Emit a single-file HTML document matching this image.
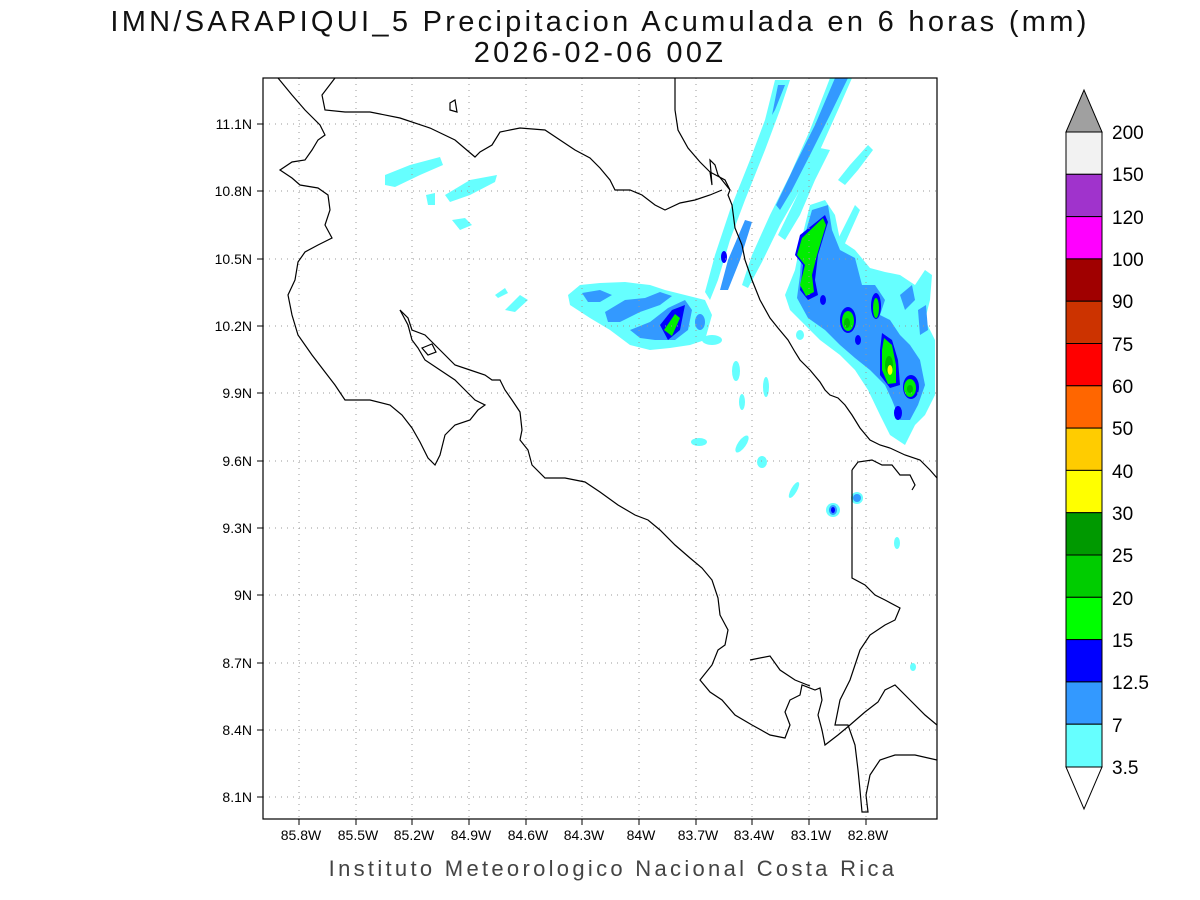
<!DOCTYPE html>
<html><head><meta charset="utf-8"><style>
html,body{margin:0;padding:0;background:#fff;}
svg{display:block;font-family:"Liberation Sans","DejaVu Sans",sans-serif;}
</style></head><body>
<svg width="1200" height="900" viewBox="0 0 1200 900" xmlns="http://www.w3.org/2000/svg">
<rect width="1200" height="900" fill="#fff"/>
<text x="600" y="31" font-size="29" text-anchor="middle" fill="#111" letter-spacing="3.3">IMN/SARAPIQUI_5 Precipitacion Acumulada en 6 horas (mm)</text>
<text x="600" y="62" font-size="29" text-anchor="middle" fill="#111" letter-spacing="3.3">2026-02-06 00Z</text>
<clipPath id="c"><rect x="263" y="78" width="674" height="741"/></clipPath>
<g clip-path="url(#c)">
<g fill="#66ffff">
<path d="M830,78 L852,78 L838,110 L820,150 L800,190 L780,225 L762,262 L748,288 L742,285 L752,255 L770,215 L790,175 L810,130 Z"/>
<path d="M775,80 L790,80 L780,110 L765,150 L745,200 L730,240 L718,280 L710,300 L705,292 L715,255 L730,210 L750,160 L765,120 Z"/>
<path d="M820,148 L830,150 L815,180 L800,215 L785,240 L778,235 L795,200 Z"/>
<path d="M868,145 L873,150 L858,170 L845,185 L838,180 L850,165 Z"/>
<path d="M855,205 L860,210 L842,250 L835,245 Z"/>
<path d="M810,205 L825,200 L835,215 L840,240 L855,250 L870,268 L885,272 L900,275 L915,285 L925,270 L932,275 L930,300 L925,320 L935,340 L935,395 L925,415 L915,425 L905,445 L890,435 L880,415 L868,390 L855,370 L840,355 L820,340 L805,325 L790,310 L785,295 L795,270 L800,245 Z"/>
<path d="M580,285 L600,283 L625,282 L650,285 L665,290 L685,295 L705,300 L712,315 L705,340 L690,345 L670,348 L650,350 L630,345 L610,330 L590,318 L570,305 L568,295 Z"/>
<path d="M385,175 L410,165 L440,157 L443,165 L420,175 L395,187 L385,185 Z"/>
<path d="M445,195 L470,180 L497,175 L495,182 L470,195 L450,202 Z"/>
<path d="M452,220 L465,218 L472,225 L460,230 Z"/>
<path d="M505,310 L520,295 L528,300 L515,312 Z"/>
<path d="M495,295 L505,288 L508,293 L498,298 Z"/>
<path d="M426,195 L435,193 L435,205 L428,205 Z"/>
<ellipse cx="736" cy="371" rx="4" ry="10"/>
<ellipse cx="766" cy="387" rx="3" ry="10"/>
<ellipse cx="742" cy="402" rx="3" ry="8"/>
<ellipse cx="742" cy="444" rx="4" ry="10" transform="rotate(35 742 444)"/>
<ellipse cx="699" cy="442" rx="8" ry="4"/>
<ellipse cx="762" cy="462" rx="5" ry="6"/>
<ellipse cx="794" cy="490" rx="3" ry="9" transform="rotate(30 794 490)"/>
<ellipse cx="833" cy="510" rx="7" ry="7"/>
<ellipse cx="857" cy="498" rx="6" ry="6"/>
<ellipse cx="897" cy="543" rx="3" ry="6"/>
<ellipse cx="913" cy="667" rx="3" ry="4"/>
<ellipse cx="712" cy="340" rx="10" ry="5"/>
<ellipse cx="800" cy="335" rx="4" ry="5"/>
</g>
<g fill="#3399ff">
<path d="M835,78 L848,78 L830,115 L810,155 L792,190 L780,210 L776,205 L795,165 L815,125 Z"/>
<path d="M778,85 L785,85 L775,110 L772,115 Z"/>
<path d="M745,220 L752,222 L740,260 L728,290 L720,290 L728,260 Z"/>
<path d="M812,210 L828,205 L832,230 L840,250 L855,258 L862,285 L875,285 L885,300 L880,315 L890,320 L900,335 L910,345 L920,360 L925,385 L918,405 L910,420 L900,420 L892,400 L885,385 L870,370 L855,358 L840,345 L825,330 L808,318 L797,298 L800,275 L802,245 Z"/>
<path d="M900,295 L912,285 L915,300 L905,310 Z"/>
<path d="M918,310 L926,305 L928,330 L920,335 Z"/>
<path d="M582,293 L600,290 L612,295 L600,302 L588,302 Z"/>
<path d="M605,312 L625,300 L645,298 L660,292 L672,296 L660,305 L640,312 L620,322 L608,322 Z"/>
<path d="M630,330 L650,322 L668,308 L685,300 L692,310 L688,330 L675,340 L655,340 L640,338 Z"/>
<ellipse cx="700" cy="322" rx="5" ry="8"/>
<ellipse cx="833" cy="510" rx="4" ry="5"/>
<ellipse cx="857" cy="498" rx="4" ry="4"/>
</g>
<g fill="#0000ff">
<path d="M825,215 L828,222 L818,255 L815,280 L818,295 L808,300 L800,290 L803,265 L795,255 L800,235 Z"/>
<ellipse cx="848" cy="320" rx="8" ry="13"/>
<ellipse cx="876" cy="306" rx="5" ry="13"/>
<path d="M882,333 L892,340 L898,360 L900,385 L890,388 L880,375 L880,350 Z"/>
<ellipse cx="911" cy="387" rx="8" ry="12"/>
<ellipse cx="898" cy="413" rx="4" ry="7"/>
<ellipse cx="823" cy="300" rx="3" ry="5"/>
<ellipse cx="858" cy="340" rx="3" ry="5"/>
<ellipse cx="724" cy="257" rx="3" ry="6"/>
<path d="M660,325 L672,310 L685,305 L680,330 L668,340 Z"/>
<ellipse cx="833" cy="510" rx="2" ry="3"/>
</g>
<g fill="#00ee00">
<path d="M823,218 L826,225 L817,255 L812,275 L814,292 L806,296 L800,285 L805,265 L797,255 L802,238 Z"/>
<ellipse cx="848" cy="321" rx="6" ry="10"/>
<ellipse cx="876" cy="308" rx="3" ry="10"/>
<path d="M884,338 L892,345 L896,365 L896,383 L888,384 L882,370 L882,350 Z"/>
<ellipse cx="910" cy="388" rx="6" ry="9"/>
<path d="M664,330 L675,314 L680,318 L672,336 Z"/>
</g>
<g fill="#00bb00"><ellipse cx="847" cy="323" rx="3" ry="5"/><ellipse cx="889" cy="365" rx="4" ry="9"/><ellipse cx="910" cy="389" rx="3" ry="4"/></g>
<ellipse cx="890" cy="370" rx="2.5" ry="5" fill="#ffff00"/>
<g stroke="#999" stroke-width="1" stroke-dasharray="1,5">
<path d="M299,78V819M356,78V819M412,78V819M469,78V819M526,78V819M582,78V819M639,78V819M696,78V819M752,78V819M809,78V819M866,78V819"/>
<path d="M263,124H937M263,191H937M263,259H937M263,326H937M263,393H937M263,461H937M263,528H937M263,595H937M263,663H937M263,730H937M263,797H937"/>
</g>
<g fill="none" stroke="#000" stroke-width="1.2">
<path d="M278,78 L292,95 L305,110 L320,125 L325,135 L318,140 L312,150 L305,160 L292,162 L280,170 L292,178 L300,185 L318,188 L328,195 L330,210 L325,225 L332,238 L318,245 L305,252 L298,262 L295,280 L288,295 L292,315 L298,335 L312,355 L325,372 L335,385 L345,400 L370,400 L390,405 L402,415 L412,428 L420,442 L428,458 L435,465 L440,455 L445,435 L455,425 L470,420 L478,410 L485,405 L475,400 L465,390 L455,380 L440,370 L425,360 L418,348 L412,340 L408,325 L400,310"/>
<path d="M400,310 L408,318 L412,330 L425,335 L440,350 L455,365 L470,370 L485,375 L492,380 L500,380 L505,390 L512,400 L520,412 L522,430 L520,440 L528,450 L532,465 L545,478 L565,478 L585,482 L600,492 L618,505 L635,515 L648,520 L660,530 L675,545 L690,558 L702,568 L712,580 L718,598 L720,615 L728,630 L725,645 L718,650 L712,665 L700,680 L710,692 L722,700 L735,715 L752,725 L770,735 L785,738 L790,725 L785,712 L790,700 L800,695 L802,685 L815,690 L820,688 L822,700 L818,715 L822,730 L825,745 L838,735 L850,725 L865,712 L878,702 L885,690 L895,685 L910,700 L925,715 L937,725"/>
<path d="M750,660 L770,656 L780,670 L795,680 L810,686"/>
<path d="M422,348 L432,344 L436,352 L428,355 Z"/>
<path d="M450,103 L455,100 L457,112 L450,110 Z"/>
<path d="M335,78 L322,95 L325,110 L345,112 L370,112 L400,118 L430,128 L455,140 L475,157 L480,152 L492,145 L500,132 L520,128 L545,130 L560,140 L575,150 L590,158 L600,168 L610,180 L615,190 L630,190 L642,195 L655,205 L665,210 L680,203 L695,200 L710,195 L722,190"/>
<path d="M675,78 L675,110 L678,130 L688,148 L700,162 L710,172 L712,185 L710,160 L715,165 L718,175 L730,190 L728,195 L732,205 L735,228 L742,245 L745,260 L752,280 L760,300 L770,318 L778,328 L788,340 L795,352 L800,360 L810,370 L820,382 L825,390 L830,395 L838,398 L845,405 L852,415 L860,428 L870,440 L880,445 L890,448 L905,455 L920,460 L930,470 L937,478"/>
<path d="M852,470 L852,578 L865,585 L875,595 L885,600 L900,608 L895,620 L885,625 L870,635 L860,650 L855,665 L850,680 L840,700 L835,725 L848,725 L855,745 L858,770 L860,790 L862,812 L868,812 L866,795 L870,775 L880,760 L895,755 L915,755 L937,760"/>
<path d="M852,470 L858,462 L872,460 L882,465 L892,465 L900,475 L910,475 L915,485 L912,490"/>
<path d="M710,172 L725,180 L730,190"/>
</g>
</g>
<rect x="263" y="78" width="674" height="741" fill="none" stroke="#000" stroke-width="1.2"/>
<g stroke="#000" stroke-width="1">
<path d="M263,124h-6M263,191h-6M263,259h-6M263,326h-6M263,393h-6M263,461h-6M263,528h-6M263,595h-6M263,663h-6M263,730h-6M263,797h-6"/>
<path d="M299,819v6M356,819v6M412,819v6M469,819v6M526,819v6M582,819v6M639,819v6M696,819v6M752,819v6M809,819v6M866,819v6"/>
</g>
<g font-size="14" fill="#000" text-anchor="end">
<text x="252" y="129">11.1N</text><text x="252" y="196">10.8N</text><text x="252" y="264">10.5N</text><text x="252" y="331">10.2N</text><text x="252" y="398">9.9N</text><text x="252" y="466">9.6N</text><text x="252" y="533">9.3N</text><text x="252" y="600">9N</text><text x="252" y="668">8.7N</text><text x="252" y="735">8.4N</text><text x="252" y="802">8.1N</text>
</g>
<g font-size="14" fill="#000" text-anchor="middle">
<text x="301" y="840">85.8W</text><text x="358" y="840">85.5W</text><text x="414" y="840">85.2W</text><text x="471" y="840">84.9W</text><text x="528" y="840">84.6W</text><text x="584" y="840">84.3W</text><text x="641" y="840">84W</text><text x="698" y="840">83.7W</text><text x="754" y="840">83.4W</text><text x="811" y="840">83.1W</text><text x="868" y="840">82.8W</text>
</g>
<text x="613" y="876" font-size="22" text-anchor="middle" fill="#444" letter-spacing="3.3">Instituto Meteorologico Nacional Costa Rica</text>
<g stroke="#000" stroke-width="1">
<path d="M1066,132 L1084,90 L1102,132 Z" fill="#a0a0a0"/>
<rect x="1066" y="132" width="36" height="42.3" fill="#f2f2f2"/>
<rect x="1066" y="174.3" width="36" height="42.3" fill="#a033cc"/>
<rect x="1066" y="216.6" width="36" height="42.3" fill="#ff00ff"/>
<rect x="1066" y="258.9" width="36" height="42.3" fill="#a00000"/>
<rect x="1066" y="301.2" width="36" height="42.3" fill="#cc3300"/>
<rect x="1066" y="343.5" width="36" height="42.3" fill="#ff0000"/>
<rect x="1066" y="385.8" width="36" height="42.3" fill="#ff6600"/>
<rect x="1066" y="428.1" width="36" height="42.3" fill="#ffcc00"/>
<rect x="1066" y="470.4" width="36" height="42.3" fill="#ffff00"/>
<rect x="1066" y="512.7" width="36" height="42.3" fill="#009900"/>
<rect x="1066" y="555" width="36" height="42.3" fill="#00cc00"/>
<rect x="1066" y="597.3" width="36" height="42.3" fill="#00ff00"/>
<rect x="1066" y="639.6" width="36" height="42.3" fill="#0000ff"/>
<rect x="1066" y="681.9" width="36" height="42.3" fill="#3399ff"/>
<rect x="1066" y="724.2" width="36" height="42.8" fill="#66ffff"/>
<path d="M1066,767 L1084,809 L1102,767 Z" fill="#fff"/>
</g>
<g font-size="19" fill="#000">
<text x="1112" y="139">200</text><text x="1112" y="181">150</text><text x="1112" y="224">120</text><text x="1112" y="266">100</text><text x="1112" y="308">90</text><text x="1112" y="351">75</text><text x="1112" y="393">60</text><text x="1112" y="435">50</text><text x="1112" y="478">40</text><text x="1112" y="520">30</text><text x="1112" y="562">25</text><text x="1112" y="605">20</text><text x="1112" y="647">15</text><text x="1112" y="689">12.5</text><text x="1112" y="732">7</text><text x="1112" y="774">3.5</text>
</g>
</svg>
</body></html>
